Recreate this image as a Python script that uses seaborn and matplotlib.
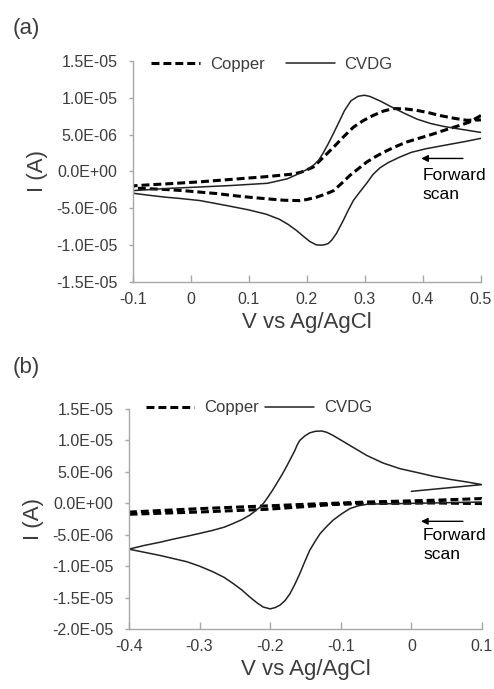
import matplotlib
matplotlib.use("Agg")
import matplotlib.pyplot as plt
import pandas as pd
import seaborn as sns

# ---------------- data ----------------
# Panel (a): CVDG, solid (lower branch from 0.5 going left, then upper branch back)
a_cvdg_v = [0.5, 0.475, 0.452, 0.43, 0.406, 0.38, 0.36, 0.34, 0.326, 0.314, 0.303, 0.291,
            0.280, 0.271, 0.263, 0.251, 0.243, 0.237, 0.230, 0.224, 0.216, 0.205, 0.194,
            0.182, 0.168, 0.153, 0.13, 0.099, 0.06, 0.016, -0.02, -0.042, -0.07, -0.1,
            -0.1, -0.07, -0.04, 0.016, 0.07, 0.132, 0.166, 0.186, 0.203, 0.212, 0.22,
            0.228, 0.237, 0.246, 0.254, 0.265, 0.276, 0.288, 0.299, 0.308, 0.317, 0.328,
            0.340, 0.355, 0.368, 0.39, 0.414, 0.437, 0.460, 0.48, 0.5]
a_cvdg_i = [4.5, 4.1, 3.77, 3.45, 3.1, 2.6, 1.95, 1.2, 0.5, -0.4, -1.6, -2.8,
            -3.95, -5.3, -6.6, -8.4, -9.3, -9.77, -9.95, -10.0, -9.95, -9.5, -8.8,
            -8.0, -7.2, -6.5, -5.8, -5.2, -4.6, -3.95, -3.65, -3.5, -3.25, -2.95,
            -2.6, -2.45, -2.3, -2.1, -1.9, -1.6, -1.0, -0.3, 0.4, 0.9, 1.5,
            2.5, 3.8, 5.2, 6.5, 8.3, 9.6, 10.2, 10.35, 10.2, 9.9, 9.5,
            9.0, 8.4, 7.9, 7.1, 6.5, 6.1, 5.8, 5.55, 5.3]

# Panel (a): Copper, dashed
a_cu_v = [0.5, 0.48, 0.464, 0.441, 0.418, 0.395, 0.372, 0.352, 0.332, 0.318, 0.303, 0.289,
          0.274, 0.260, 0.246, 0.231, 0.216, 0.2, 0.188, 0.16, 0.13, 0.102, 0.073, 0.045,
          0.016, -0.013, -0.042, -0.07, -0.1,
          -0.1, -0.07, -0.042, 0.016, 0.073, 0.13, 0.176, 0.19, 0.211, 0.228, 0.246,
          0.263, 0.28, 0.297, 0.314, 0.332, 0.349, 0.369, 0.389, 0.409, 0.429, 0.452,
          0.475, 0.5]
a_cu_i = [7.6, 6.7, 6.27, 5.7, 5.1, 4.55, 4.0, 3.35, 2.6, 2.0, 1.27, 0.4,
          -0.54, -1.6, -2.6, -3.1, -3.5, -3.8, -3.95, -3.9, -3.7, -3.5, -3.27, -3.0,
          -2.8, -2.6, -2.45, -2.35, -2.25,
          -1.95, -1.8, -1.68, -1.4, -1.05, -0.7, -0.35, -0.1, 0.6, 1.9, 3.3,
          4.7, 6.0, 6.9, 7.6, 8.2, 8.54, 8.5, 8.3, 8.0, 7.6, 7.25,
          6.95, 7.0]

# Panel (b): CVDG, solid
b_cvdg_v = [0.0, 0.1, 0.078, 0.055, 0.031, 0.008, -0.016, -0.040, -0.063, -0.075, -0.087,
            -0.099, -0.111, -0.12, -0.127, -0.136, -0.144, -0.151, -0.158, -0.162, -0.165,
            -0.171, -0.177, -0.184, -0.191, -0.197, -0.203, -0.208, -0.214, -0.222, -0.229,
            -0.24, -0.252, -0.265, -0.281, -0.3, -0.318, -0.337, -0.356, -0.378, -0.4,
            -0.378, -0.356, -0.337, -0.318, -0.3, -0.281, -0.265, -0.252, -0.24, -0.229,
            -0.219, -0.210, -0.200, -0.193, -0.186, -0.179, -0.172, -0.165, -0.158, -0.151,
            -0.144, -0.136, -0.129, -0.12, -0.111, -0.099, -0.087, -0.075, -0.063, -0.04,
            -0.016, 0.031, 0.1]
b_cvdg_i = [1.9, 2.97, 3.4, 3.8, 4.3, 4.9, 5.5, 6.4, 7.6, 8.4, 9.2,
            10.0, 10.8, 11.3, 11.5, 11.45, 11.2, 10.7, 10.0, 9.2, 8.4,
            7.1, 5.8, 4.4, 3.1, 2.0, 1.0, 0.2, -0.59, -1.3, -1.9,
            -2.6, -3.2, -3.8, -4.3, -4.8, -5.25, -5.7, -6.2, -6.7, -7.3,
            -7.8, -8.3, -8.8, -9.3, -10.0, -10.9, -11.8, -12.8, -13.8, -14.9,
            -15.8, -16.5, -16.8, -16.6, -16.2, -15.5, -14.4, -12.9, -11.2, -9.3,
            -7.5, -6.0, -4.8, -3.7, -2.7, -1.7, -0.84, -0.4, -0.16, -0.08,
            -0.05, 0.05, 0.2]

# Panel (b): Copper, dashed
b_cu_v = [-0.4, -0.3, -0.205, -0.158, -0.111, -0.063, 0.031, 0.1,
          0.1, 0.031, -0.063, -0.111, -0.158, -0.205, -0.3, -0.4]
b_cu_i = [-1.4, -0.85, -0.42, -0.2, 0.0, 0.2, 0.48, 0.75,
          -0.05, 0.05, -0.05, -0.2, -0.59, -0.96, -1.39, -1.75]

series_names = ["Copper", "CVDG"]

a_xticks = [-0.1, 0, 0.1, 0.2, 0.3, 0.4, 0.5]
a_xlabels = ["-0.1", "0", "0.1", "0.2", "0.3", "0.4", "0.5"]
a_yticks = [1.5e-5, 1.0e-5, 5.0e-6, 0.0, -5.0e-6, -1.0e-5, -1.5e-5]
a_ylabels = ["1.5E-05", "1.0E-05", "5.0E-06", "0.0E+00", "-5.0E-06", "-1.0E-05", "-1.5E-05"]

b_xticks = [-0.4, -0.3, -0.2, -0.1, 0, 0.1]
b_xlabels = ["-0.4", "-0.3", "-0.2", "-0.1", "0", "0.1"]
b_yticks = [1.5e-5, 1.0e-5, 5.0e-6, 0.0, -5.0e-6, -1.0e-5, -1.5e-5, -2.0e-5]
b_ylabels = ["1.5E-05", "1.0E-05", "5.0E-06", "0.0E+00", "-5.0E-06", "-1.0E-05",
             "-1.5E-05", "-2.0E-05"]

x_title = "V vs Ag/AgCl"
y_title = "I (A)"
note_text = "Forward\nscan"

# ---------------- style ----------------
sns.set_style("ticks")
plt.rcParams['font.family'] = ['Liberation Sans', 'DejaVu Sans']

TXT = "#3c3c3c"
SPINE = "#a8a8a8"

fig = plt.figure(figsize=(4.94, 6.89), dpi=100)
axA = fig.add_axes([0.269, 0.5907, 0.7045, 0.3208])
axB = fig.add_axes([0.261, 0.0871, 0.7146, 0.3193])


def panel(ax, cu_v, cu_i, cv_v, cv_i, xt, xl, yt, yl, leg_xy, colsp, arrow, note_xy):
    cu = pd.DataFrame({"V": cu_v, "I": [v * 1e-6 for v in cu_i]})
    cv = pd.DataFrame({"V": cv_v, "I": [v * 1e-6 for v in cv_i]})
    sns.lineplot(data=cu, x="V", y="I", sort=False, estimator=None, ax=ax,
                 color="black", lw=2.2, linestyle=(0, (2.6, 1.3)), label=series_names[0])
    sns.lineplot(data=cv, x="V", y="I", sort=False, estimator=None, ax=ax,
                 color="#222222", lw=1.1, label=series_names[1])
    ax.set_xlim(xt[0], xt[-1])
    ax.set_ylim(yt[-1], yt[0])
    ax.set_xticks(xt)
    ax.set_xticklabels(xl)
    ax.set_yticks(yt)
    ax.set_yticklabels(yl)
    for s in ["top", "right"]:
        ax.spines[s].set_visible(False)
    for s in ["left", "bottom"]:
        ax.spines[s].set_color(SPINE)
        ax.spines[s].set_linewidth(1.0)
    ax.tick_params(axis="x", direction="in", length=5, width=1, color=SPINE,
                   labelsize=11.5, labelcolor=TXT, pad=7)
    ax.tick_params(axis="y", direction="out", length=3, width=1, color=SPINE,
                   labelsize=11.5, labelcolor=TXT, pad=8)
    ax.set_xlabel(x_title, fontsize=16, color=TXT, labelpad=4)
    ax.set_ylabel(y_title, fontsize=16, color=TXT, labelpad=6)
    leg = ax.legend(ncol=2, frameon=False, loc="center", bbox_to_anchor=leg_xy,
                    handlelength=2.9, handletextpad=0.6, columnspacing=colsp,
                    fontsize=12)
    for t in leg.get_texts():
        t.set_color(TXT)
    ax.annotate("", xy=(arrow[1], arrow[2]), xytext=(arrow[0], arrow[2]),
                arrowprops=dict(arrowstyle="-|>", color="black", lw=1.0,
                                mutation_scale=10, shrinkA=0, shrinkB=0))
    ax.text(note_xy[0], note_xy[1], note_text, ha="left", va="top", fontsize=12.5,
            color="black", linespacing=1.35, clip_on=False)


panel(axA, a_cu_v, a_cu_i, a_cvdg_v, a_cvdg_i, a_xticks, a_xlabels, a_yticks, a_ylabels,
      (0.40, 0.986), 1.3, (0.469, 0.397, 1.77e-6), (0.4, 0.5e-6))
panel(axB, b_cu_v, b_cu_i, b_cvdg_v, b_cvdg_i, b_xticks, b_xlabels, b_yticks, b_ylabels,
      (0.368, 1.005), 0.4, (0.073, 0.0136, -2.87e-6), (0.0165, -3.9e-6))

fig.text(0.053, 0.959, "(a)", fontsize=16, ha="center", va="center", color=TXT)
fig.text(0.053, 0.467, "(b)", fontsize=16, ha="center", va="center", color=TXT)

fig.savefig("out.png", dpi=100)
